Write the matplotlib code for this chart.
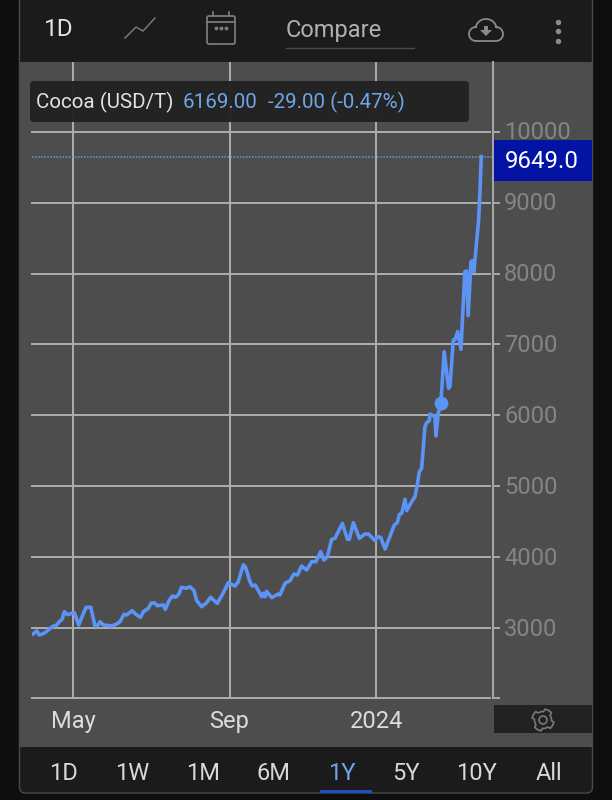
import numpy as np
import matplotlib
matplotlib.use('Agg')
import matplotlib.pyplot as plt
from matplotlib.patches import Rectangle, FancyBboxPatch, Circle, Polygon
from matplotlib.transforms import ScaledTranslation

# session number (trading days) and price
sessions = [0, 2.1, 3.6, 6.9, 9.7, 11.6, 13.1, 15, 16.6, 17.9, 19.6, 22.1, 23.6, 26.1, 28.8, 30.3, 33, 35.4, 36.8,
            38.3, 40.2, 42.5, 45, 47.8, 49.7, 52, 53.5, 56.6, 59.2, 61.5, 63, 65.9, 67.4, 69.3, 71, 74.5, 75.6,
            77.7, 79.6, 81.5, 83.4, 84.8, 87.4, 89.7, 92, 93.5, 96.4, 99.2, 101.5, 105.3, 108.4, 111.6, 115.4,
            117.3, 120.2, 121.5, 124, 125.3, 127, 130.7, 131.6, 132.6, 133.5, 136.4, 140.2, 141.1, 144, 146.9,
            149.1, 151.1, 153.5, 156.4, 159.3, 161.7, 164.4, 166.3, 168.2, 170.7, 172.6, 176.8, 179.7, 180.8,
            183.1, 186.5, 189.7, 191.7, 195.5, 196.8, 198.7, 201.2, 206.5, 208.2, 209.4, 210.7, 212.6, 213.6,
            216.4, 218.3, 219.6, 220.8, 222.1, 224, 225, 226.5, 226.9, 229.7, 230.3, 231.6, 233.1, 235, 237.5,
            238.3, 240.2, 241.1, 242.7, 244.6, 246.8, 247.8, 248.7, 250.3, 251.2, 252, 253.1, 254.7, 255.4, 256.2]
prices = [2916, 2958, 2901, 2934, 2995, 3028, 3033, 3089, 3122, 3230, 3188, 3207, 3216, 3042, 3207, 3292, 3292, 3028, 3033,
          3089, 3042, 3038, 3028, 3057, 3089, 3193, 3184, 3245, 3184, 3151, 3230, 3277, 3348, 3357, 3315, 3325, 3263,
          3386, 3451, 3433, 3480, 3574, 3560, 3583, 3527, 3386, 3301, 3357, 3433, 3348, 3480, 3639, 3592,
          3653, 3893, 3856, 3653, 3592, 3607, 3442, 3489, 3442, 3517, 3428, 3480, 3466, 3630, 3668,
          3762, 3747, 3874, 3818, 3936, 3936, 4077, 3959, 4006, 4251, 4265, 4476, 4251, 4251,
          4486, 4265, 4326, 4326, 4232, 4288, 4279, 4114, 4453, 4486, 4603, 4617, 4815, 4655,
          4782, 4852, 5017, 5205, 5252, 5840, 5896, 5924, 6018, 5981, 5708, 6028, 6169, 6898, 6381,
          6404, 7062, 7062, 7180, 6931, 8026, 8035, 7405, 8167, 8181, 8026, 8332, 8755, 9131, 9649]
y_ticks = [3000, 4000, 5000, 6000, 7000, 8000, 9000, 10000]
x_tick_pos = [22.9, 112.3, 196.3]
x_tick_labels = ['May', 'Sep', '2024']
ranges = ['1D', '1W', '1M', '6M', '1Y', '5Y', '10Y', 'All']
last_price = 9649.0
hover_session = 233.1
hover_price = 6169.0

plt.rcParams['font.family'] = ['Roboto', 'DejaVu Sans']
W, H = 612, 800
fig = plt.figure(figsize=(W / 100, H / 100), dpi=100, facecolor='#0e0e0e')

def pixel_axes(z):
    a = fig.add_axes([0, 0, 1, 1], zorder=z)
    a.set_xlim(0, W)
    a.set_ylim(H, 0)
    a.axis('off')
    return a

bg = pixel_axes(0)
bg.add_patch(FancyBboxPatch((19.5, -10), 573, 803, boxstyle='round,pad=0,rounding_size=6',
                            fc='#1b1b1b', ec='#4a4a4a', lw=1))
bg.add_patch(Rectangle((20, 62), 572, 685, fc='#4d4d4d', ec='none'))

# chart
L, R, T, B = 32, 493, 62, 698
ax = fig.add_axes([L / W, 1 - B / H, (R - L) / W, (B - T) / H], zorder=1)
ax.patch.set_alpha(0)
ax.set_xlim(-0.6, 262.9)
ax.set_ylim(2013, 10983)
for s in ['top', 'left', 'bottom']:
    ax.spines[s].set_visible(False)
ax.spines['right'].set_color('#a8a8a8')
ax.spines['right'].set_linewidth(1.4)
grid_c = '#aeaeae'
for v in y_ticks + [2013]:
    ax.axhline(v, xmin=0, xmax=0.993, color=grid_c, lw=1.4, zorder=1, clip_on=False)
ax.vlines(x_tick_pos, 2013, 10983, color=grid_c, lw=1.4, zorder=1)
ax.yaxis.tick_right()
ax.set_yticks(y_ticks + [2013])
ax.set_yticklabels([str(v) for v in y_ticks] + [''], fontsize=17, color='#858585')
ax.tick_params(axis='y', length=5, width=1.4, color='#a8a8a8', pad=3)
# labels sit a little above their ticks
up = ScaledTranslation(0, 1 / 72, fig.dpi_scale_trans)
for lab in ax.get_yticklabels():
    lab.set_transform(lab.get_transform() + up)
ax.set_xticks(x_tick_pos)
ax.set_xticklabels(x_tick_labels, fontsize=17, color='#dcdcdc')
ax.tick_params(axis='x', length=0, pad=8.5)
ax.axhline(last_price, color='#6f97dc', lw=1.1, ls=(0, (1, 1)), zorder=2)
ax.plot(sessions, prices, color='#5b93f7', lw=2.6, solid_joinstyle='round', zorder=3)
ax.plot([hover_session], [hover_price], 'o', color='#5b93f7', ms=10, mew=0, zorder=4)

# overlay: toolbar, legend, price flag, range buttons
ui = pixel_axes(2)
ui.add_patch(FancyBboxPatch((30, 81), 439, 41, boxstyle='round,pad=0,rounding_size=4', fc='#222222', ec='none', alpha=0.97))
ui.text(36, 102, 'Cocoa (USD/T)', fontsize=14.8, color='#e2e2e2', va='center')
ui.text(183, 102, '6169.00', fontsize=14.8, color='#6fa6e6', va='center')
ui.text(268, 102, '-29.00 (-0.47%)', fontsize=14.8, color='#6fa6e6', va='center')
ui.add_patch(Rectangle((494, 140), 98, 41, fc='#0313a3', ec='none'))
ui.text(542, 162, '9649.0', fontsize=17.3, color='white', ha='center', va='center')
ui.add_patch(Rectangle((494, 705), 98, 28, fc='#222222', ec='none'))

# gear icon
ang = np.linspace(0, 2 * np.pi, 49)[:-1] + np.pi / 16
rad = np.where((np.arange(48) % 12) < 6, 11, 8.5)
ui.add_patch(Polygon(np.c_[543 + rad * np.cos(ang), 720 + rad * np.sin(ang)], fc='none', ec='#7a7a7a', lw=1.2))
ui.add_patch(Circle((543, 720), 4, fc='none', ec='#7a7a7a', lw=1.2))

# top toolbar
ui.text(59, 29, '1D', fontsize=17.5, color='#e4e4e4', ha='center', va='center')
ui.plot([125, 136, 143, 155], [38, 27, 31, 18], color='#767676', lw=1.1)
ui.add_patch(FancyBboxPatch((207, 16), 28, 28, boxstyle='round,pad=0,rounding_size=2', fc='none', ec='#7a7a7a', lw=1.3))
ui.plot([207, 235], [22, 22], color='#7a7a7a', lw=1.3)
ui.plot([213, 213], [12, 16], color='#7a7a7a', lw=1.3)
ui.plot([229, 229], [12, 16], color='#7a7a7a', lw=1.3)
ui.plot([216, 221, 226], [28, 28, 28], ls='none', marker='o', ms=1.8, color='#7a7a7a')
ui.text(286, 30, 'Compare', fontsize=17, color='#b0b0b0', va='center')
ui.plot([286, 414], [48, 48], color='#4a4a4a', lw=1)

# cloud icon
t1 = np.linspace(np.pi * 0.5, np.pi * 1.5, 20)
t2 = np.linspace(np.pi * 1.05, np.pi * 1.95, 20)
t3 = np.linspace(-np.pi * 0.5, np.pi * 0.5, 20)
cx = np.r_[476 + 7 * np.cos(t1), 486 + 10.5 * np.cos(t2), 496 + 7 * np.cos(t3), 476]
cy = np.r_[34 + 7 * np.sin(t1), 29 + 10 * np.sin(t2), 34 + 7 * np.sin(t3), 41]
ui.plot(cx, cy, color='#8a8a8a', lw=1.3)
ui.add_patch(Polygon([[484, 26], [488, 26], [488, 30], [492, 30], [486, 36], [480, 30], [484, 30]], fc='#8a8a8a', ec='none'))
ui.plot([558, 558, 558], [22, 31, 41], ls='none', marker='o', ms=4, mew=0, color='#8a8a8a')

# bottom range buttons
range_x = [63, 132, 203, 274, 342, 406, 477, 549]
for x, r in zip(range_x, ranges):
    ui.text(x, 773, r, fontsize=17, color='#70a5ea' if r == '1Y' else '#d8d8d8', ha='center', va='center')
ui.add_patch(Rectangle((320, 790), 52, 3, fc='#1f4fc4', ec='none'))

fig.savefig('out.png', dpi=100, facecolor=fig.get_facecolor())
